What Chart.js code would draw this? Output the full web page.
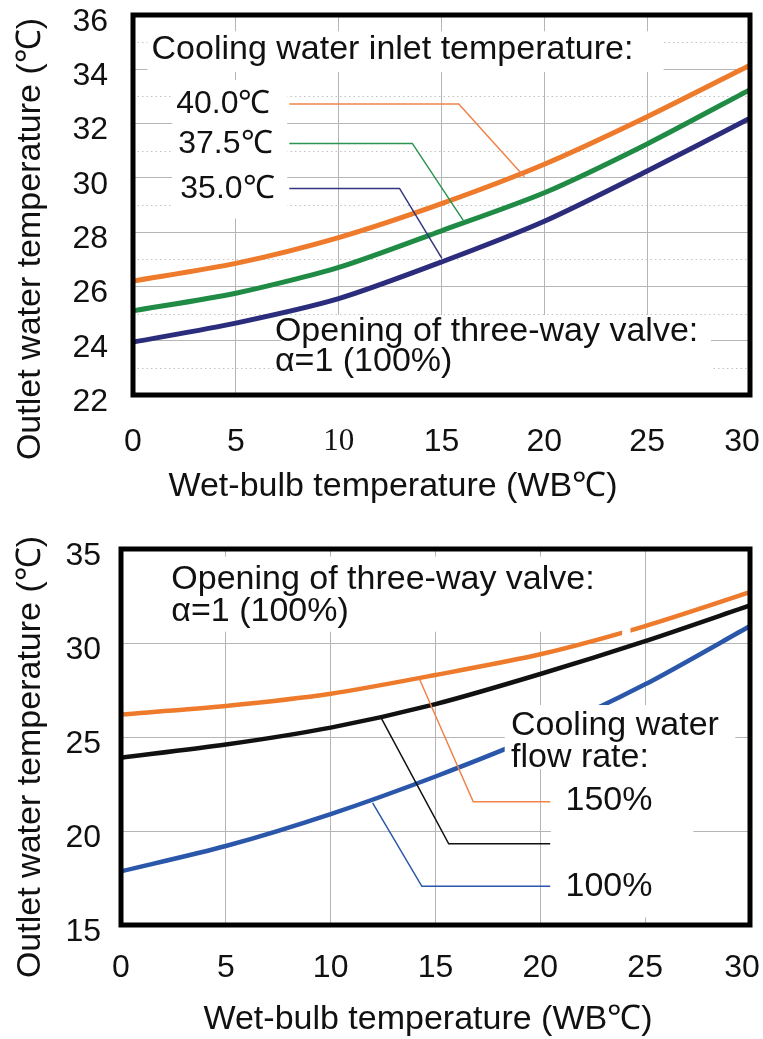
<!DOCTYPE html>
<html>
<head>
<meta charset="utf-8">
<script src="https://cdn.jsdelivr.net/npm/chart.js@4.4.1/dist/chart.umd.min.js"></script>
<style>
  html, body { margin: 0; padding: 0; background: #fff; }
  canvas { display: block; }
</style>
</head>
<body>
<canvas id="topChart" width="763" height="520"></canvas>
<canvas id="bottomChart" width="763" height="519"></canvas>
<script>
  // wet-bulb temperature (x axis, both panels)
  const wetBulb = [0, 5, 10, 15, 20, 25, 30];
  const xTicks = [0, 5, 10, 15, 20, 25, 30];

  // upper panel: cooling water inlet temperature
  const inlet400 = [26.2, 26.85, 27.8, 29.05, 30.5, 32.25, 34.15];
  const inlet375 = [25.1, 25.75, 26.7, 28.05, 29.45, 31.25, 33.25];
  const inlet350 = [23.95, 24.65, 25.55, 26.9, 28.4, 30.25, 32.2];
  const topYTicks = [22, 24, 26, 28, 30, 32, 34, 36];
  const topYMinor = [23, 25, 27, 29, 31, 33, 35];

  // lower panel: cooling water flow rate
  const flow150 = [26.2, 26.65, 27.3, 28.3, 29.4, 30.9, 32.7];
  const flowMid = [23.9, 24.6, 25.5, 26.75, 28.35, 30.1, 32.0];
  const flow100 = [17.85, 19.2, 20.9, 22.9, 25.15, 27.8, 30.9];
  const bottomYTicks = [15, 20, 25, 30, 35];

  const FONT = '"Liberation Sans", Arial, sans-serif';
  const INK = '#111';

  function paintMasks(chart, list){
    const {ctx, scales: {x, y}} = chart;
    ctx.save();
    ctx.fillStyle = '#fff';
    list.forEach(m => {
      const x0 = x.getPixelForValue(m.x[0]), x1 = x.getPixelForValue(m.x[1]);
      const y0 = y.getPixelForValue(m.y[1]), y1 = y.getPixelForValue(m.y[0]);
      ctx.fillRect(x0, y0, x1 - x0, y1 - y0);
    });
    ctx.restore();
  }

  // labels, leader lines, white boxes behind the text, frame and axis titles
  const figure = {
    id: 'figure',
    beforeDatasetsDraw(chart, args, o){
      const {ctx, chartArea: a, scales: {y}} = chart;
      ctx.save();
      ctx.strokeStyle = '#c2c2c2';
      ctx.lineWidth = 1;
      ctx.setLineDash([1.5, 3]);
      (o.minor || []).forEach(v => {
        const py = Math.round(y.getPixelForValue(v)) + 0.5;
        ctx.beginPath(); ctx.moveTo(a.left, py); ctx.lineTo(a.right, py); ctx.stroke();
      });
      ctx.restore();
      paintMasks(chart, o.masks.filter(m => !m.front));
    },
    afterDatasetsDraw(chart, args, o){
      const {ctx, chartArea: a, scales: {x, y}} = chart;
      paintMasks(chart, o.masks.filter(m => m.front));
      ctx.save();
      o.leaders.forEach(l => {
        ctx.strokeStyle = l.color;
        ctx.lineWidth = 1.5;
        ctx.beginPath();
        l.pts.forEach(([vx, vy], i) => {
          const px = x.getPixelForValue(vx), py = y.getPixelForValue(vy);
          if(i) ctx.lineTo(px, py); else ctx.moveTo(px, py);
        });
        ctx.stroke();
      });
      ctx.fillStyle = INK;
      ctx.textBaseline = 'middle';
      ctx.textAlign = 'left';
      o.notes.forEach(n => {
        ctx.font = `${n.size}px ${FONT}`;
        ctx.fillText(n.text, x.getPixelForValue(n.x), y.getPixelForValue(n.y));
      });
      ctx.strokeStyle = '#000';
      ctx.lineWidth = 5;
      ctx.strokeRect(a.left, a.top, a.right - a.left, a.bottom - a.top);
      ctx.font = `34px ${FONT}`;
      ctx.textAlign = 'center';
      ctx.fillText(o.xTitle.text, o.xTitle.x, o.xTitle.y);
      ctx.translate(o.yTitle.x, o.yTitle.y);
      ctx.rotate(-Math.PI / 2);
      ctx.fillText(o.yTitle.text, 0, 0);
      ctx.restore();
    }
  };

  function makeChart(id, cfg){
    const {area, height} = cfg;
    return new Chart(document.getElementById(id), {
      type: 'line',
      data: {
        datasets: cfg.series.map(s => ({
          data: wetBulb.map((w, i) => ({x: w, y: s.data[i]})),
          borderColor: s.color,
          borderWidth: s.width,
          pointRadius: 0,
          tension: 0.25,
          fill: false
        }))
      },
      options: {
        responsive: false,
        animation: false,
        devicePixelRatio: 1,
        layout: { padding: { top: area.top, right: 763 - area.right, left: 0, bottom: 0 } },
        plugins: { legend: { display: false }, tooltip: { enabled: false }, figure: cfg.figure },
        scales: {
          x: {
            type: 'linear', min: 0, max: 30,
            afterBuildTicks: s => { s.ticks = xTicks.map(v => ({value: v})); },
            afterFit: s => { s.height = height - area.bottom; s.paddingLeft = 0; s.paddingRight = 0; },
            grid: { color: '#b5b5b5', lineWidth: 1, drawTicks: false },
            border: { display: false },
            ticks: {
              padding: cfg.xPad, color: INK, font: cfg.xFont, maxRotation: 0, autoSkip: false,
              // last label sits a little inside the frame, as in the original
              callback: v => v === 30 ? '30\u2002' : String(v)
            }
          },
          y: {
            min: cfg.yTicks[0], max: cfg.yTicks[cfg.yTicks.length - 1],
            afterBuildTicks: s => { s.ticks = cfg.yTicks.map(v => ({value: v})); },
            afterFit: s => { s.width = area.left; s.paddingTop = 0; s.paddingBottom = 0; },
            grid: { color: '#b5b5b5', lineWidth: 1, drawTicks: false },
            border: { display: false },
            ticks: { padding: cfg.yPad, labelOffset: 7, color: INK, font: { family: FONT, size: 32 }, autoSkip: false }
          }
        }
      },
      plugins: [figure]
    });
  }

  makeChart('topChart', {
    height: 520,
    area: { left: 133, top: 15, right: 750, bottom: 395 },
    yTicks: topYTicks,
    xPad: 28,
    yPad: 25,
    xFont: ctx => (ctx.tick && ctx.tick.value === 10)
      ? { family: '"Liberation Serif", "Times New Roman", serif', size: 31 }
      : { family: FONT, size: 32 },
    series: [
      { data: inlet400, color: '#ee7a2c', width: 5 },
      { data: inlet375, color: '#1f8b45', width: 5 },
      { data: inlet350, color: '#2b2c7c', width: 5 }
    ],
    figure: {
      minor: topYMinor,
      masks: [
        { x: [0.7, 25.8], y: [33.9, 35.4] },
        { x: [1.9, 7.5], y: [28.5, 33.6] },
        { x: [7.2, 28.1], y: [22, 24.95] }
      ],
      leaders: [
        { color: '#f0834a', pts: [[7.6, 32.72], [15.84, 32.72], [19.03, 30.04]] },
        { color: '#2a9452', pts: [[7.6, 31.27], [13.58, 31.27], [16.05, 28.44]] },
        { color: '#33357f', pts: [[7.6, 29.61], [12.96, 29.61], [15.02, 27.03]] }
      ],
      notes: [
        { text: 'Cooling water inlet temperature:', x: 0.9, y: 34.72, size: 34 },
        { text: '40.0℃', x: 2.1, y: 32.72, size: 32 },
        { text: '37.5℃', x: 2.2, y: 31.25, size: 32 },
        { text: '35.0℃', x: 2.3, y: 29.6, size: 32 },
        { text: 'Opening of three-way valve:', x: 6.9, y: 24.33, size: 34 },
        { text: 'α=1 (100%)', x: 6.9, y: 23.22, size: 34 }
      ],
      xTitle: { text: 'Wet-bulb temperature (WB℃)', x: 393, y: 487 },
      yTitle: { text: 'Outlet water temperature (℃)', x: 31, y: 239 }
    }
  });

  makeChart('bottomChart', {
    height: 519,
    area: { left: 121, top: 29, right: 750, bottom: 405 },
    yTicks: bottomYTicks,
    xPad: 24,
    yPad: 20,
    xFont: { family: FONT, size: 32 },
    series: [
      { data: flow150, color: '#ee7a2c', width: 4.5 },
      { data: flowMid, color: '#111111', width: 4.5 },
      { data: flow100, color: '#2a57aa', width: 4.5 }
    ],
    figure: {
      minor: [],
      masks: [
        { x: [2.0, 24.0], y: [30.6, 34.6] },
        { x: [20.5, 27.3], y: [15.4, 23.3] },
        { x: [18.3, 29.3], y: [23.3, 26.7], front: true },
        { x: [23.9, 24.3], y: [30.2, 31.3], front: true }
      ],
      leaders: [
        { color: '#f0834a', pts: [[14.24, 28.07], [16.8, 21.55], [20.47, 21.55]] },
        { color: '#111111', pts: [[12.4, 26.03], [15.63, 19.32], [20.47, 19.32]] },
        { color: '#2a57aa', pts: [[12.0, 21.5], [14.35, 17.06], [20.47, 17.06]] }
      ],
      notes: [
        { text: 'Opening of three-way valve:', x: 2.4, y: 33.35, size: 34 },
        { text: 'α=1 (100%)', x: 2.4, y: 31.65, size: 34 },
        { text: 'Cooling water', x: 18.6, y: 25.6, size: 34 },
        { text: 'flow rate:', x: 18.6, y: 23.9, size: 34 },
        { text: '150%', x: 21.2, y: 21.6, size: 34 },
        { text: '100%', x: 21.2, y: 17.06, size: 34 }
      ],
      xTitle: { text: 'Wet-bulb temperature (WB℃)', x: 428, y: 500 },
      yTitle: { text: 'Outlet water temperature (℃)', x: 31, y: 237 }
    }
  });
</script>
</body>
</html>
